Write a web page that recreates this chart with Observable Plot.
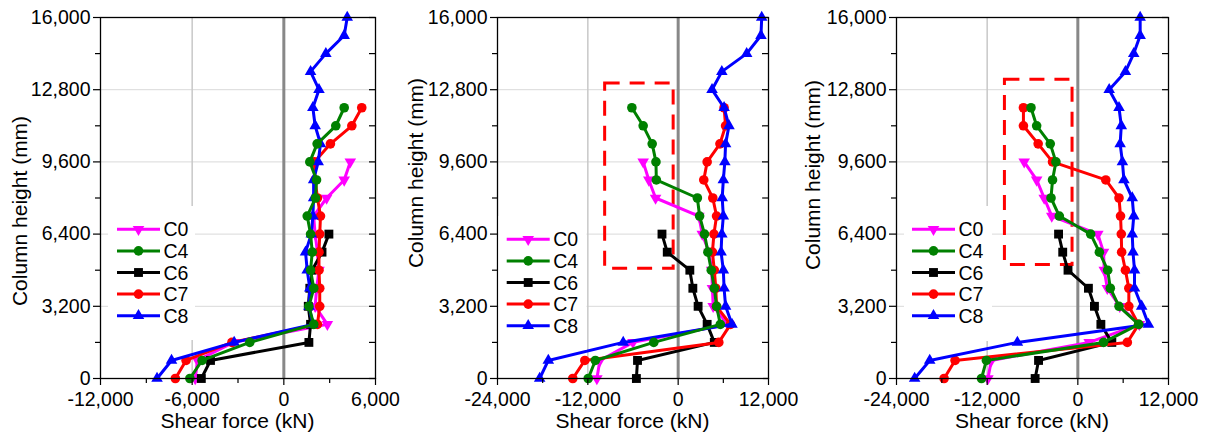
<!DOCTYPE html>
<html><head><meta charset="utf-8">
<script src="https://cdn.jsdelivr.net/npm/d3@7"></script>
<script src="https://cdn.jsdelivr.net/npm/@observablehq/plot@0.6"></script>
<style>
body{margin:0;background:#fff;}
#wrap{position:relative;width:1211px;height:436px;overflow:hidden;background:#fff;}
#wrap svg{position:absolute;top:0;overflow:visible;}
</style></head><body><div id="wrap"></div>
<script>
const FONT = '"Liberation Sans", Arial, Helvetica, sans-serif';
const heights = [0,800,1600,2400,3200,4000,4800,5600,6400,7200,8000,8800,9600,10400,11200,12000,12800,13600,14400,15200,16000];
const seriesNames = ["C0","C4","C6","C7","C8"];
const seriesColors = ["#ff00ff","#008000","#000000","#ff0000","#0000ff"];
const drawOrder = ["C0","C6","C7","C8","C4"];
const yMajor = [0,3200,6400,9600,12800,16000];
const yAllTicks = [0,1600,3200,4800,6400,8000,9600,11200,12800,14400,16000];
const yGrid = [3200,6400,9600,12800];

// Panel 1 (x: -12,000 .. 6,000), values listed from height 0 upward
const a_C0 = [-5800,-5650,-3300,2850,2050,2150,2300,2200,2050,1950,2800,3950,4350];
const a_C4 = [-6150,-5350,-2230,1960,1640,1960,1750,1860,1750,1530,2070,2140,1700,2180,3400,3950];
const a_C6 = [-5400,-4800,1640,1750,1600,1700,1850,2500,2950];
const a_C7 = [-7100,-6400,-3400,2200,2350,2350,2300,2300,2350,2400,2200,2050,2000,3050,4450,5100];
const a_C8 = [-8300,-7350,-3250,1900,1650,1700,1530,1420,1800,1900,1950,1950,2250,2400,2050,1900,2300,1750,2750,3950,4150];

// Panel 2 (x: -24,000 .. 12,000)
const b_C0 = [-10800,-10400,-6000,6600,4650,4550,4450,4100,3200,2750,-3000,-3900,-4650];
const b_C4 = [-11950,-11000,-3240,5600,5100,4800,4400,3950,3500,2850,2550,-2900,-2950,-3450,-4650,-6150];
const b_C6 = [-5550,-5400,4800,3850,2650,1950,1550,-1450,-2150];
const b_C7 = [-14000,-12400,5400,6950,5100,5000,4800,4550,4750,5100,4600,3400,3850,5550,6300,6100];
const b_C8 = [-18400,-17250,-7300,7150,6300,6100,6000,5700,5800,6000,5850,6000,6200,6300,6750,6100,4500,5800,9100,11000,11100];

// Panel 3 (x: -24,000 .. 12,000)
const c_C0 = [-11900,-11450,1500,8150,5550,3900,3500,3400,2650,-3450,-4450,-5450,-7100];
const c_C4 = [-12750,-12100,3400,8050,5450,4300,3950,2850,1700,-2450,-3550,-3350,-2900,-3650,-5450,-6200];
const c_C6 = [-5650,-5200,4500,3050,2200,1400,-1300,-2000,-2550];
const c_C7 = [-17700,-16250,6550,8050,6750,6750,6300,5800,5750,5650,5450,3700,-3350,-5250,-7200,-7200];
const c_C8 = [-21600,-19600,-8000,9350,8450,7500,7500,7300,7200,7400,7200,6100,5900,5600,5750,5450,4150,6300,7400,8250,8250];

// highlighted regions (dashed boxes)
const b_box = [{x1:-9700, x2:-600, y1:4860, y2:13080}];
const c_box = [{x1:-9650, x2:-700, y1:5030, y2:13240}];

const fmt = d => d.toLocaleString("en-US");

const panels = [
  {left:0, width:400, ml:100, mr:25, xdom:[-12000,6000], xMajor:[-12000,-6000,0,6000], xMinor:[-9000,-3000,3000], vgrid:[-6000],
   series:{C0:a_C0,C4:a_C4,C6:a_C6,C7:a_C7,C8:a_C8}, box:null, ytX:20, ytY:211,
   leg:{x:117, y0:229.3, step:21.6, bx:[108,195], by:[206,340]}},
  {left:400, width:400, ml:97, mr:32, xdom:[-24000,12000], xMajor:[-24000,-12000,0,12000], xMinor:[-18000,-6000,6000], vgrid:[-12000],
   series:{C0:b_C0,C4:b_C4,C6:b_C6,C7:b_C7,C8:b_C8}, box:b_box, ytX:16, ytY:173,
   leg:{x:106.7, y0:239.3, step:21.6, bx:[98.5,186.5], by:[216,350]}},
  {left:800, width:411, ml:96, mr:43, xdom:[-24000,12000], xMajor:[-24000,-12000,0,12000], xMinor:[-18000,-6000,6000], vgrid:[-12000],
   series:{C0:c_C0,C4:c_C4,C6:c_C6,C7:c_C7,C8:c_C8}, box:c_box, ytX:13, ytY:175,
   leg:{x:112, y0:229.3, step:21.6, bx:[104,192], by:[206,341]}}
];

const H = 436, MT = 17, MB = 58;
const symOf = {C0:"triangle", C4:"circle", C6:"square", C7:"circle", C8:"triangle"};
const rOf = {C0:4.3, C4:4.8, C6:5.0, C7:4.8, C8:4.3};
const colorOf = Object.fromEntries(seriesNames.map((s,i)=>[s, seriesColors[i]]));

const wrap = document.getElementById("wrap");

for (const p of panels) {
  const plotW = p.width - p.ml - p.mr;
  const plotH = H - MT - MB;
  const marks = [];
  // grid
  marks.push(Plot.ruleY(yGrid, {stroke:"#d9d9d9", strokeWidth:1}));
  marks.push(Plot.ruleX(p.vgrid, {stroke:"#c8c8c8", strokeWidth:1.5}));
  marks.push(Plot.ruleX([0], {stroke:"#888888", strokeWidth:3}));
  // dashed box
  if (p.box) marks.push(Plot.rect(p.box, {x1:"x1", x2:"x2", y1:"y1", y2:"y2", fill:"none", stroke:"#ff0000", strokeWidth:3, strokeDasharray:"15,10"}));
  // series
  for (const s of drawOrder) {
    const vals = p.series[s];
    const rows = vals.map((v,i)=>({v, h:heights[i]}));
    marks.push(Plot.line(rows, {x:"v", y:"h", stroke:colorOf[s], strokeWidth:3}));
    marks.push(Plot.dot(rows, {x:"v", y:"h", fill:colorOf[s], stroke:"none", symbol:symOf[s], r:rOf[s], rotate: s==="C0"?180:0}));
  }
  // frame
  marks.push(Plot.frame({stroke:"#000", strokeWidth:1.3}));
  // ticks: left outward, right inward, bottom outward
  marks.push(Plot.ruleY(yMajor, {stroke:"#000", strokeWidth:1.2, insetLeft:-7, insetRight:plotW}));
  marks.push(Plot.ruleY(yAllTicks.filter(d=>!yMajor.includes(d)), {stroke:"#000", strokeWidth:1.2, insetLeft:-5, insetRight:plotW}));
  marks.push(Plot.ruleY(yAllTicks, {stroke:"#000", strokeWidth:1.2, insetLeft:plotW-6, insetRight:0}));
  marks.push(Plot.ruleX(p.xMajor, {stroke:"#000", strokeWidth:1.2, insetTop:plotH, insetBottom:-7}));
  marks.push(Plot.ruleX(p.xMinor, {stroke:"#000", strokeWidth:1.2, insetTop:plotH, insetBottom:-5}));
  // tick labels
  marks.push(Plot.axisX({ticks:p.xMajor, tickSize:0, tickPadding:14, tickFormat:fmt, label:null, fontSize:19.5}));
  marks.push(Plot.axisY({ticks:yMajor, tickSize:0, tickPadding:10, tickFormat:fmt, label:null, fontSize:19.5}));

  const svg = Plot.plot({
    width:p.width, height:H,
    marginLeft:p.ml, marginRight:p.mr, marginTop:MT, marginBottom:MB,
    x:{domain:p.xdom, nice:false},
    y:{domain:[0,16000], nice:false},
    style:{fontFamily:FONT, fontSize:"19px", color:"#000", background:"transparent", overflow:"visible"},
    marks
  });
  svg.style.left = p.left + "px";
  wrap.appendChild(svg);

  const g = d3.select(svg);
  // axis titles
  g.append("text").attr("x", p.ml + plotW/2).attr("y", 428)
    .attr("text-anchor","middle").attr("font-family",FONT).attr("font-size",21).attr("fill","#000")
    .text("Shear force (kN)");
  g.append("text").attr("transform",`translate(${p.ytX},${p.ytY}) rotate(-90)`)
    .attr("text-anchor","middle").attr("dy","0.35em").attr("font-family",FONT).attr("font-size",21).attr("fill","#000")
    .text("Column height (mm)");
  // legend
  const L = p.leg;
  g.append("rect").attr("x",L.bx[0]).attr("y",L.by[0]).attr("width",L.bx[1]-L.bx[0]).attr("height",L.by[1]-L.by[0]).attr("fill","#fff");
  seriesNames.forEach((s,i)=>{
    const yc = L.y0 + i*L.step;
    g.append("line").attr("x1",L.x).attr("x2",L.x+43).attr("y1",yc).attr("y2",yc).attr("stroke",colorOf[s]).attr("stroke-width",3);
    const type = s==="C6"?d3.symbolSquare:(s==="C4"||s==="C7")?d3.symbolCircle:d3.symbolTriangle;
    const r = rOf[s];
    g.append("path").attr("d", d3.symbol().type(type).size(Math.PI*r*r)())
      .attr("transform",`translate(${L.x+21.5},${yc})${s==="C0"?" rotate(180)":""}`).attr("fill",colorOf[s]);
    g.append("text").attr("x",L.x+46.5).attr("y",yc).attr("dy","0.36em").attr("text-anchor","start")
      .attr("font-family",FONT).attr("font-size",19.5).attr("fill","#000").text(s);
  });
}
</script></body></html>
